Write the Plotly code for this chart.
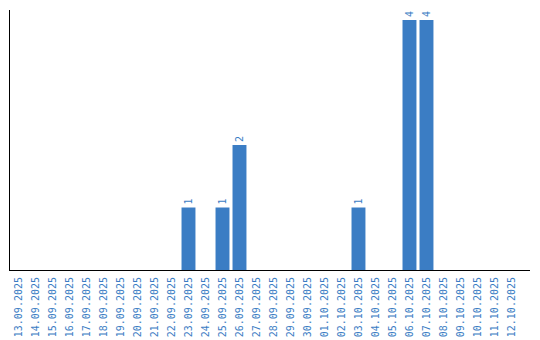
import plotly.graph_objects as go

dates = ["13.09.2025","14.09.2025","15.09.2025","16.09.2025","17.09.2025","18.09.2025",
         "19.09.2025","20.09.2025","21.09.2025","22.09.2025","23.09.2025","24.09.2025",
         "25.09.2025","26.09.2025","27.09.2025","28.09.2025","29.09.2025","30.09.2025",
         "01.10.2025","02.10.2025","03.10.2025","04.10.2025","05.10.2025","06.10.2025",
         "07.10.2025","08.10.2025","09.10.2025","10.10.2025","11.10.2025","12.10.2025"]
counts = [0,0,0,0,0,0,0,0,0,0,1,0,1,2,0,0,0,0,0,0,1,0,0,4,4,0,0,0,0,0]

color = "#3b7dc4"
labels = [str(v) if v > 0 else "" for v in counts]

fig = go.Figure(go.Bar(
    x=dates, y=counts, marker_color=color, marker_line_width=0,
    text=labels, textposition="outside", textangle=-90,
    textfont=dict(family="DejaVu Sans Mono", size=10, color=color),
    cliponaxis=False,
))
fig.update_layout(
    width=540, height=340,
    margin=dict(l=10, r=10, t=10, b=70),
    paper_bgcolor="white", plot_bgcolor="white",
    bargap=0.18, showlegend=False,
    font=dict(family="DejaVu Sans Mono", size=10, color=color),
)
fig.update_xaxes(type="category", showline=True, linecolor="black", linewidth=1,
                 range=[-0.5, 30.09], automargin=False,
                 tickangle=-90, ticks="outside", ticklen=2, tickcolor="rgba(0,0,0,0)",
                 showgrid=False,
                 tickfont=dict(family="DejaVu Sans Mono", size=10, color=color))
fig.update_yaxes(range=[0, 4.16], showline=True, linecolor="black", linewidth=1,
                 showticklabels=False, ticks="", showgrid=False, zeroline=False,
                 automargin=False)
fig.write_html("out.html")
